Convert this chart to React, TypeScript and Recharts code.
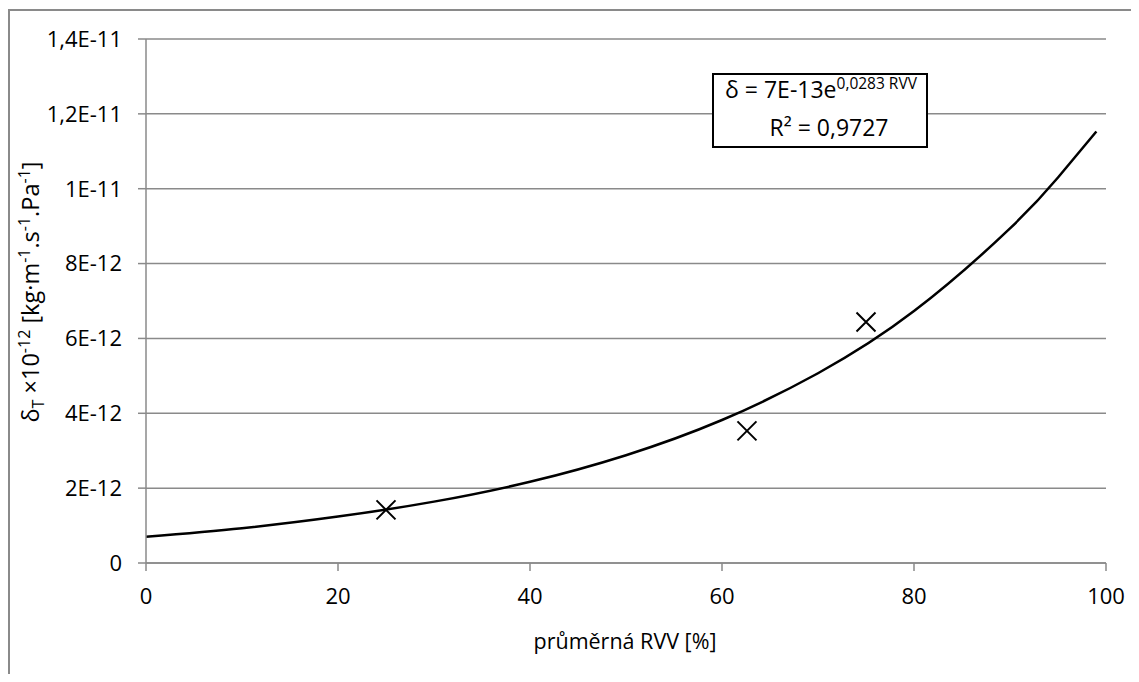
import React from 'react';
import { ComposedChart, Line, Scatter, XAxis, YAxis, CartesianGrid, Customized } from 'recharts';

// measured points [RVV %, delta]
const measured = [
  { rvv: 25, delta: 1.42e-12 },
  { rvv: 62.6, delta: 3.53e-12 },
  { rvv: 75, delta: 6.44e-12 },
];

// exponential trendline
const trend = [
  { rvv: 0, delta: 0.7e-12 },
  { rvv: 10, delta: 0.93e-12 },
  { rvv: 20, delta: 1.24e-12 },
  { rvv: 30, delta: 1.64e-12 },
  { rvv: 40, delta: 2.17e-12 },
  { rvv: 50, delta: 2.88e-12 },
  { rvv: 60, delta: 3.82e-12 },
  { rvv: 70, delta: 5.07e-12 },
  { rvv: 80, delta: 6.73e-12 },
  { rvv: 90, delta: 8.94e-12 },
  { rvv: 95, delta: 1.03e-11 },
  { rvv: 99, delta: 1.153e-11 },
];

const xTicks = [0, 20, 40, 60, 80, 100];
const yTicks = [0, 2e-12, 4e-12, 6e-12, 8e-12, 1e-11, 1.2e-11, 1.4e-11];
const yTickLabels = ['0', '2E-12', '4E-12', '6E-12', '8E-12', '1E-11', '1,2E-11', '1,4E-11'];

const FONT = '"Open Sans", sans-serif';
const GRID = '#8a8a8a';

const formatY = (v: number) => {
  let best = 0;
  yTicks.forEach((t, i) => {
    if (Math.abs(t - v) < Math.abs(yTicks[best] - v)) best = i;
  });
  return yTickLabels[best];
};

const Cross = (props: any) => {
  const { cx, cy } = props;
  const s = 9.5;
  return (
    <path
      d={`M${cx - s},${cy - s}L${cx + s},${cy + s}M${cx - s},${cy + s}L${cx + s},${cy - s}`}
      stroke="#000"
      strokeWidth={2}
      fill="none"
    />
  );
};

const Annotations = () => (
  <g fontFamily={FONT} fill="#000">
    {/* y axis title */}
    <text transform="translate(31,284) rotate(-90)" textAnchor="middle" fontSize={23.5}>
      <tspan>δ</tspan>
      <tspan fontSize={16} dy={5}>T</tspan>
      <tspan dy={-5}> ×10</tspan>
      <tspan fontSize={16} dy={-9}>-12</tspan>
      <tspan dy={9}> [kg·m</tspan>
      <tspan fontSize={16} dy={-9}>-1</tspan>
      <tspan dy={9}>.s</tspan>
      <tspan fontSize={16} dy={-9}>-1</tspan>
      <tspan dy={9}>.Pa</tspan>
      <tspan fontSize={16} dy={-9}>-1</tspan>
      <tspan dy={9}>]</tspan>
    </text>
    {/* x axis title */}
    <text x={617} y={641} textAnchor="middle" fontSize={21.5}>
      průměrná RVV [%]
    </text>
    {/* trendline equation box */}
    <rect x={705} y={66} width={214} height={73} fill="#fff" stroke="#000" strokeWidth={2} />
    <text x={813} y={90} textAnchor="middle" fontSize={23}>
      <tspan>δ = 7E-13e</tspan>
      <tspan fontSize={15.5} dy={-9}>0,0283 RVV</tspan>
    </text>
    <text x={821} y={128} textAnchor="middle" fontSize={23}>
      R² = 0,9727
    </text>
  </g>
);

export default function App() {
  return (
    <div style={{ position: 'relative', width: 1123, height: 666, overflow: 'hidden', background: '#fff' }}>
      <div
        style={{
          position: 'absolute',
          left: 0,
          top: 1,
          width: 1200,
          height: 700,
          borderLeft: `2px solid ${GRID}`,
          borderTop: `2px solid ${GRID}`,
        }}
      />
      <div style={{ position: 'absolute', left: 0, top: 0 }}>
        <ComposedChart width={1123} height={666} margin={{ top: 31, right: 25, left: 0, bottom: 0 }}>
          <CartesianGrid vertical={false} stroke={GRID} strokeWidth={1.5} />
          <XAxis
            type="number"
            dataKey="rvv"
            domain={[0, 100]}
            ticks={xTicks}
            height={111}
            tickSize={8}
            tickMargin={17}
            stroke={GRID}
            strokeWidth={1.5}
            tick={{ fill: '#000', fontSize: 22, fontFamily: FONT }}
            allowDuplicatedCategory={false}
          />
          <YAxis
            type="number"
            dataKey="delta"
            domain={[0, 1.4e-11]}
            ticks={yTicks}
            width={138}
            tickSize={8}
            tickMargin={16}
            stroke={GRID}
            strokeWidth={1.5}
            tickFormatter={formatY}
            tick={{ fill: '#000', fontSize: 22, fontFamily: FONT }}
          />
          <Line
            data={trend}
            dataKey="delta"
            type="natural"
            stroke="#000"
            strokeWidth={2.5}
            dot={false}
            activeDot={false}
            isAnimationActive={false}
          />
          <Scatter data={measured} dataKey="delta" shape={Cross} isAnimationActive={false} />
          <Customized component={Annotations} />
        </ComposedChart>
      </div>
    </div>
  );
}
